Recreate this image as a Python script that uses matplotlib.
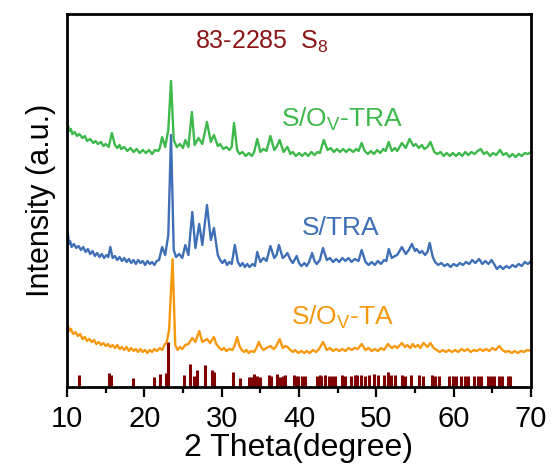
import matplotlib
matplotlib.use("Agg")
import matplotlib.pyplot as plt
from matplotlib.ticker import MultipleLocator

plt.rcParams['font.family'] = ['Liberation Sans', 'DejaVu Sans']
plt.rcParams['mathtext.fontset'] = 'custom'
plt.rcParams['mathtext.rm'] = 'Liberation Sans'
plt.rcParams['mathtext.it'] = 'Liberation Sans:italic'

# ---- data: (2theta, intensity in arbitrary units) ----
green_pts = [(10, 257), (10.15, 261), (10.3, 256), (10.5, 258), (10.7, 253), (11, 255), (11.3, 251), (11.6, 253),
             (12, 249), (12.3, 251), (12.6, 246), (13, 248), (13.4, 244), (13.7, 246), (14, 243), (14.4, 245),
             (14.7, 241), (15, 243), (15.4, 240), (15.8, 254), (16.2, 242), (16.5, 239), (16.8, 242), (17, 238),
             (17.4, 240), (17.8, 236), (18.2, 239), (18.6, 235), (19, 238), (19.4, 234), (19.8, 237), (20.2, 234),
             (20.6, 237), (21, 233), (21.4, 237), (21.8, 236), (22, 239), (22.3, 250), (22.7, 240), (23.1, 257),
             (23.45, 306), (23.8, 247), (24.2, 240), (24.6, 243), (25, 239), (25.3, 247), (25.7, 240), (26.15, 275),
             (26.5, 242), (27.0, 249), (27.5, 243), (28.1, 265), (28.6, 245), (29.0, 252), (29.5, 241), (29.8, 243),
             (30.2, 238), (30.6, 240), (31, 237), (31.3, 240), (31.6, 264), (32.0, 237), (32.3, 233), (32.7, 235),
             (33.1, 231), (33.5, 234), (33.9, 231), (34.2, 235), (34.6, 248), (35.0, 235), (35.4, 238), (35.8, 236),
             (36.3, 251), (36.8, 237), (37.1, 240), (37.5, 247), (38, 235), (38.5, 240), (38.9, 233), (39.2, 235),
             (39.6, 231), (40, 234), (40.4, 231), (40.8, 234), (41.2, 231), (41.6, 235), (42, 232), (42.4, 235),
             (42.7, 234), (43.2, 247), (43.7, 237), (44.1, 239), (44.5, 235), (44.9, 238), (45.3, 235), (45.7, 238),
             (46.1, 235), (46.5, 238), (47, 235), (47.4, 238), (47.7, 236), (48.1, 244), (48.5, 236), (48.9, 233),
             (49.3, 236), (49.7, 233), (50.1, 237), (50.5, 234), (50.9, 238), (51.2, 236), (51.6, 245), (52.0, 236),
             (52.4, 239), (52.7, 236), (53.3, 244), (53.8, 239), (54.3, 248), (54.8, 241), (55.1, 243), (55.5, 239),
             (55.9, 242), (56.2, 238), (56.6, 240), (57.0, 245), (57.5, 235), (57.9, 233), (58.3, 235), (58.7, 231),
             (59.1, 234), (59.5, 231), (59.9, 234), (60.3, 231), (60.7, 234), (61.1, 231), (61.5, 235), (61.9, 232),
             (62.3, 235), (62.7, 233), (63.1, 236), (63.5, 238), (63.9, 233), (64.3, 235), (64.7, 231), (65.1, 234),
             (65.5, 232), (66, 237), (66.4, 232), (66.8, 234), (67.2, 230), (67.6, 233), (68, 230), (68.4, 233),
             (68.8, 231), (69.2, 234), (69.6, 233), (70, 235)]

blue_pts = [(10, 150), (10.1, 155), (10.25, 143), (10.4, 146), (10.6, 140), (10.9, 143), (11.2, 139), (11.5, 141),
            (11.8, 137), (12.1, 140), (12.4, 135), (12.7, 138), (13, 133), (13.3, 136), (13.6, 131), (13.9, 134),
            (14.2, 130), (14.5, 133), (14.8, 129), (15.1, 132), (15.35, 130), (15.6, 140), (15.9, 129), (16.2, 131),
            (16.5, 127), (16.8, 130), (17.1, 126), (17.4, 129), (17.7, 125), (18, 128), (18.3, 124), (18.6, 127),
            (18.9, 123), (19.2, 127), (19.5, 124), (19.8, 126), (20.1, 122), (20.4, 126), (20.7, 123), (21, 125),
            (21.3, 122), (21.6, 126), (21.9, 127), (22.3, 140), (22.7, 132), (23.1, 152), (23.45, 252), (23.8, 137),
            (24.1, 130), (24.5, 133), (24.9, 129), (25.3, 142), (25.7, 132), (26.2, 175), (26.6, 139), (27.1, 163),
            (27.5, 142), (28.1, 182), (28.6, 147), (29.0, 159), (29.5, 132), (29.8, 127), (30.1, 124), (30.4, 127),
            (30.7, 122), (31.0, 125), (31.3, 123), (31.7, 142), (32.1, 125), (32.4, 121), (32.7, 124), (33.0, 120),
            (33.3, 123), (33.6, 120), (34.0, 123), (34.3, 121), (34.6, 135), (35.0, 125), (35.4, 129), (35.8, 126),
            (36.3, 141), (36.8, 129), (37.1, 132), (37.4, 142), (37.9, 129), (38.2, 131), (38.5, 134), (38.9, 127),
            (39.2, 124), (39.7, 131), (40.0, 124), (40.3, 121), (40.7, 124), (41.0, 121), (41.3, 125), (41.7, 134),
            (42.0, 126), (42.3, 123), (42.7, 127), (43.1, 139), (43.6, 127), (44.0, 129), (44.4, 125), (44.8, 128),
            (45.2, 125), (45.6, 129), (46.0, 126), (46.4, 129), (46.8, 125), (47.2, 128), (47.7, 126), (48.1, 137),
            (48.6, 125), (49.0, 122), (49.4, 125), (49.8, 122), (50.2, 126), (50.6, 123), (51.0, 127), (51.3, 126),
            (51.6, 138), (52.0, 129), (52.4, 131), (52.7, 132), (53.3, 140), (53.8, 133), (54.2, 137), (54.6, 143),
            (55.0, 136), (55.2, 138), (55.6, 134), (55.9, 136), (56.3, 132), (56.6, 135), (56.9, 144), (57.3, 130),
            (57.6, 125), (58.0, 122), (58.4, 124), (58.8, 121), (59.2, 123), (59.6, 120), (60.0, 123), (60.4, 121),
            (60.8, 124), (61.2, 122), (61.6, 125), (62.0, 123), (62.4, 127), (62.8, 124), (63.3, 128), (63.7, 123),
            (64.1, 126), (64.5, 123), (64.9, 127), (65.3, 122), (65.6, 118), (66.0, 121), (66.4, 118), (66.8, 121),
            (67.2, 119), (67.6, 122), (68.0, 120), (68.4, 123), (68.8, 121), (69.2, 125), (69.6, 123), (70, 126)]

orange_pts = [(10, 59), (10.15, 61), (10.3, 56), (10.5, 58), (10.8, 53), (11.1, 55), (11.4, 51), (11.7, 53), (12, 48),
              (12.3, 50), (12.6, 46), (12.9, 48), (13.2, 45), (13.5, 47), (13.8, 43), (14.1, 45), (14.4, 42), (14.7, 44),
              (15, 41), (15.3, 43), (15.6, 40), (15.9, 42), (16.2, 39), (16.5, 42), (16.8, 38), (17.1, 40), (17.4, 37),
              (17.7, 40), (18, 36), (18.3, 39), (18.6, 36), (18.9, 38), (19.2, 35), (19.5, 38), (19.8, 35), (20.1, 37),
              (20.4, 34), (20.7, 37), (21, 35), (21.3, 38), (21.6, 36), (22, 39), (22.3, 37), (22.6, 42), (22.9, 45),
              (23.2, 57), (23.65, 128), (24.0, 42), (24.3, 37), (24.6, 40), (24.9, 38), (25.3, 42), (25.7, 43),
              (26.2, 49), (26.6, 45), (27.1, 56), (27.5, 45), (28.1, 48), (28.5, 44), (29.0, 50), (29.3, 43),
              (29.6, 40), (30, 37), (30.3, 39), (30.6, 36), (31, 38), (31.4, 37), (31.7, 42), (32.0, 50), (32.3, 41),
              (32.6, 37), (32.9, 35), (33.2, 37), (33.5, 34), (33.8, 36), (34.2, 35), (34.5, 39), (34.8, 45),
              (35.1, 40), (35.4, 37), (35.8, 39), (36.3, 41), (36.7, 38), (37.0, 40), (37.5, 48), (37.9, 39),
              (38.2, 41), (38.5, 40), (38.9, 37), (39.2, 35), (39.5, 37), (39.9, 34), (40.3, 36), (40.7, 34), (41, 36),
              (41.4, 34), (41.8, 37), (42.2, 35), (42.6, 38), (43.1, 45), (43.6, 37), (44.0, 39), (44.4, 36),
              (44.8, 38), (45.2, 36), (45.6, 38), (46, 36), (46.4, 39), (46.8, 37), (47.2, 39), (47.6, 38), (48.1, 43),
              (48.6, 37), (49.0, 39), (49.4, 36), (49.8, 38), (50.2, 36), (50.6, 39), (51.0, 37), (51.5, 43), (52.0, 39),
              (52.4, 41), (52.7, 39), (53.3, 44), (53.7, 40), (54.0, 42), (54.4, 39), (54.7, 43), (55.0, 40), (55.4, 42),
              (55.7, 39), (56.1, 44), (56.6, 40), (57.0, 44), (57.4, 39), (57.8, 37), (58.2, 35), (58.6, 37), (59.0, 35),
              (59.4, 37), (59.8, 35), (60.2, 37), (60.6, 35), (61.0, 38), (61.4, 36), (61.8, 38), (62.2, 35), (62.6, 37),
              (63.0, 36), (63.4, 38), (63.8, 36), (64.2, 38), (64.6, 36), (65.0, 39), (65.4, 37), (65.9, 41), (66.3, 37),
              (66.7, 35), (67.1, 36), (67.5, 34), (67.9, 36), (68.3, 34), (68.7, 36), (69.1, 35), (69.5, 37), (70, 36)]

ref_pos = [11.55, 15.45, 15.7, 18.5, 21.2, 22.0, 22.8, 23.1, 25.1, 25.9, 26.45, 26.8, 27.8, 28.8, 29.0,
           31.5, 32.4, 33.5, 33.8, 34.2, 34.55, 34.9, 36.1, 36.4, 37.2, 37.6, 37.9, 38.2, 39.3, 39.55,
           39.85, 40.4, 40.84, 42.27, 42.7, 42.87, 43.4, 43.86, 44.3, 44.64, 45.6, 45.9, 46.67, 47.2,
           47.54, 48.06, 48.49, 49.05, 49.7, 50.2, 51.0, 51.5, 51.86, 52.4, 53.37, 53.7, 54.45, 55.5,
           55.97, 57.17, 57.56, 58.1, 59.4, 59.86, 60.28, 60.93, 61.45, 61.8, 62.66, 63.1, 63.5, 64.38,
           64.8, 65.24, 65.9, 66.24, 66.97, 67.3]
ref_int = [12, 14, 12, 9, 10, 13, 14, 45, 12, 23, 11, 17, 22, 17, 15,
           15, 9, 10, 10, 13, 11, 10, 12, 11, 13, 10, 11, 12, 12, 11,
           11, 11, 11, 11, 12, 11, 12, 11, 11, 11, 12, 11, 11, 12,
           12, 12, 11, 12, 13, 12, 12, 15, 12, 12, 12, 11, 12, 12,
           11, 12, 11, 11, 11, 11, 11, 11, 11, 11, 11, 11, 11, 11,
           11, 11, 11, 11, 11, 11]

labels = ['S/O$_\\mathrm{V}$-TRA', 'S/TRA', 'S/O$_\\mathrm{V}$-TA']
colors = ['#3DB94B', '#3F6FB6', '#F7980F']
ref_color = '#800000'
ref_title = '83-2285  S$_8$'

green_x, green_y = zip(*green_pts)
blue_x, blue_y = zip(*blue_pts)
orange_x, orange_y = zip(*orange_pts)

fig = plt.figure(figsize=(5.52, 4.70), dpi=100)
ax = fig.add_axes([67/552, 1 - 387/470, (531-67)/552, (387-14)/470])

ax.vlines(ref_pos, 0, ref_int, color=ref_color, linewidth=2.2)
ax.plot(orange_x, orange_y, color=colors[2], linewidth=1.7)
ax.plot(blue_x, blue_y, color=colors[1], linewidth=1.7)
ax.plot(green_x, green_y, color=colors[0], linewidth=1.7)

ax.text(0.461, 0.697, labels[0], color=colors[0], fontsize=19, ha='left', va='baseline', transform=ax.transAxes)
ax.text(0.506, 0.4075, labels[1], color=colors[1], fontsize=19, ha='left', va='baseline', transform=ax.transAxes)
ax.text(0.483, 0.166, labels[2], color=colors[2], fontsize=19, ha='left', va='baseline', transform=ax.transAxes)
ax.text(0.276, 0.908, ref_title, color='#8B1515', fontsize=18, ha='left', va='baseline', transform=ax.transAxes)

ax.set_xlim(10, 70)
ax.set_ylim(0, 373)
ax.xaxis.set_major_locator(MultipleLocator(10))
ax.xaxis.set_minor_locator(MultipleLocator(5))
ax.set_yticks([])
ax.tick_params(axis='x', which='major', direction='out', length=7, width=1.6, labelsize=21, pad=6)
ax.tick_params(axis='x', which='minor', direction='out', length=4, width=1.6)
for s in ax.spines.values():
    s.set_linewidth(2)
ax.set_xlabel('2 Theta(degree)', fontsize=23, labelpad=0)
ax.set_ylabel('Intensity (a.u.)', fontsize=22, labelpad=8)

fig.savefig('out.png', dpi=100)
